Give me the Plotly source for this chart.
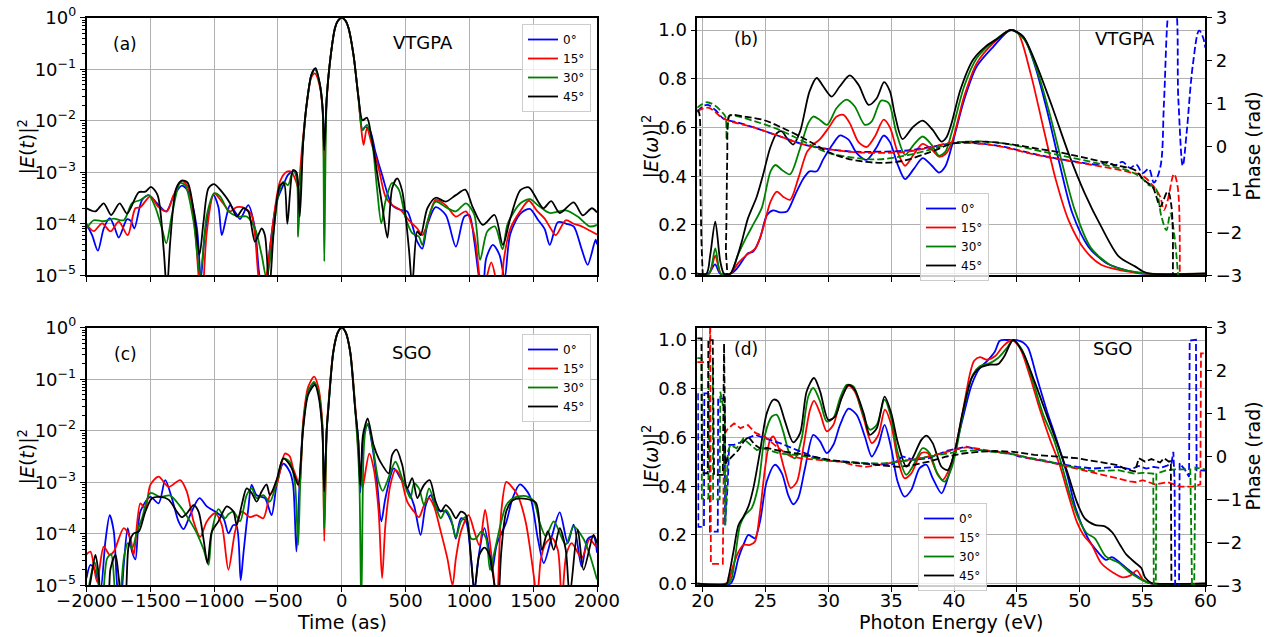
import plotly.graph_objects as go

# ---------------- tick labels / categories ----------------
angles = ["0°", "15°", "30°", "45°"]
colors = ["#0000ff", "#ff0000", "#008000", "#000000"]
log_tickvals = [1e-5, 1e-4, 1e-3, 1e-2, 1e-1, 1]
log_ticktext = ["10<sup>−5</sup>", "10<sup>−4</sup>", "10<sup>−3</sup>",
                "10<sup>−2</sup>", "10<sup>−1</sup>", "10<sup>0</sup>"]

# ---------------- panel (a): |E(t)|^2, VTGPA ----------------
a0_t = [-2000,-1956,-1911,-1865,-1818,-1783,-1747,-1682,-1651,-1625,-1565,-1513,-1448,-1375,-1318,-1253,-1201,-1135,-1104,-1070,-1005,-966,-940,-901,-875,-823,-797,-732,-680,-641,-602,-563,-510,-458,-421,-373,-335,-302,-276,-237,-210,-171,-150,-137,-118,-92,-53,-30,0,30,53,92,132,163,184,224,263,316,395,460,513,552,592,631,671,736,815,894,960,999,1039,1073,1105,1131,1184,1236,1276,1320,1400,1474,1537,1590,1630,1693,1760,1817,1880,1927,1989,2000]
a0_y = [9.8e-5,6.0e-5,3.0e-5,8.1e-5,1.29e-4,8.9e-5,5.4e-5,1.23e-4,1.12e-4,8.1e-5,2.9e-4,3.6e-4,2.5e-4,1.74e-4,3.4e-4,5.5e-4,4.2e-4,8.1e-5,8.7e-6,7.1e-5,3.6e-4,2.1e-4,6.0e-5,1.48e-4,2.3e-4,1.51e-4,1.23e-4,2.3e-4,8.1e-5,8.7e-6,5e-6,3.3e-5,2.7e-4,5.6e-4,8.9e-4,1.05e-3,5.6e-4,4.0e-3,2.0e-2,7.9e-2,0.1,5.0e-2,1.74e-2,2.5e-3,2.7e-2,0.141,0.631,0.87,1.0,0.87,0.631,0.19,2.7e-2,6.6e-3,7.6e-3,6.2e-3,2.5e-3,8.9e-4,2.3e-4,1.86e-4,1.74e-4,9.5e-5,4.5e-5,3.3e-5,9.5e-5,2.1e-4,1.48e-4,3.6e-5,1.38e-4,1.48e-4,4.5e-5,1.0e-5,4e-6,2.1e-5,3.9e-5,2.5e-5,8.7e-6,6.3e-5,1.58e-4,1.95e-4,1.2e-4,7.9e-5,3.9e-5,1.07e-4,1.0e-4,8.9e-5,3.2e-5,1.6e-5,4.9e-5,4.0e-5]

a15_t = [-2000,-1943,-1878,-1812,-1747,-1677,-1617,-1578,-1500,-1435,-1370,-1318,-1253,-1201,-1148,-1122,-1096,-1057,-1000,-940,-875,-823,-758,-706,-654,-628,-589,-537,-484,-432,-395,-355,-342,-310,-276,-237,-210,-171,-150,-137,-118,-92,-53,-30,0,30,53,92,132,150,171,197,237,289,342,395,460,526,592,631,658,736,815,894,973,1039,1078,1105,1140,1172,1210,1240,1270,1320,1400,1466,1530,1590,1630,1677,1755,1817,1880,1942,2000]
a15_y = [9.8e-5,7.2e-5,1.02e-4,7.1e-5,1.1e-4,6.0e-5,2.0e-4,2.1e-4,3.4e-4,2.1e-4,1.74e-4,3.6e-4,6.9e-4,4.9e-4,7.1e-5,1.0e-5,3.2e-6,7.1e-5,3.9e-4,2.7e-4,1.74e-4,2.1e-4,2.0e-4,1.48e-4,1.0e-5,3.2e-6,1e-5,1.1e-4,6.6e-4,1.02e-3,1.02e-3,6.3e-4,4.9e-4,3.2e-3,1.9e-2,7.1e-2,8.3e-2,4.5e-2,1.58e-2,1.26e-3,2.5e-2,0.141,0.631,0.87,1.0,0.87,0.631,0.19,2.5e-2,8.3e-3,3.4e-3,7.1e-3,3.4e-3,1.2e-3,3.4e-4,2.3e-4,1.86e-4,1.17e-4,8.1e-5,6.0e-5,8.1e-5,2.9e-4,2.3e-4,1.38e-4,1.74e-4,6.0e-5,1.0e-5,3.2e-6,1.0e-5,1.78e-5,7.9e-6,3.2e-6,2.0e-5,7.9e-5,1.78e-4,2.8e-4,1.78e-4,1.26e-4,8.7e-5,6.0e-5,1.17e-4,1.0e-4,8.9e-5,7.4e-5,6.2e-5]

a30_t = [-2000,-1943,-1865,-1786,-1708,-1643,-1578,-1513,-1461,-1409,-1375,-1331,-1266,-1227,-1161,-1109,-1057,-1000,-953,-888,-810,-745,-680,-628,-589,-550,-497,-458,-421,-381,-355,-342,-325,-302,-276,-237,-210,-171,-150,-137,-118,-92,-53,-30,0,30,53,92,132,163,197,237,276,310,342,395,447,500,552,605,631,671,736,815,894,973,1039,1084,1140,1200,1260,1300,1400,1474,1537,1630,1755,1849,1942,2000]
a30_y = [8.1e-5,1.17e-4,1.12e-4,1.26e-4,1.17e-4,2.5e-4,2.9e-4,3.6e-4,2.1e-4,8.1e-5,4.2e-5,1.48e-4,6.2e-4,5.6e-4,1.1e-4,1e-5,1.48e-4,3.9e-4,3.4e-4,1.74e-4,1.38e-4,1.38e-4,8.1e-5,2.5e-5,8.7e-6,3.3e-5,3.6e-4,6.6e-4,5.6e-4,1.1e-3,8.9e-4,5.6e-5,5.0e-4,4.0e-3,2.0e-2,7.9e-2,0.102,5.0e-2,1.74e-2,1.86e-5,2.7e-2,0.141,0.631,0.87,1.0,0.87,0.631,0.19,2.7e-2,6.6e-3,8.3e-3,4.0e-3,4.9e-4,1.02e-4,2.7e-4,6.2e-4,4.6e-4,1.29e-4,6.6e-5,5.6e-5,3.9e-5,1.1e-4,2.7e-4,2.1e-4,1.74e-4,2.5e-4,1.48e-4,2.0e-5,7.1e-5,8.9e-5,3.2e-5,1.0e-4,2.5e-4,3.0e-4,2.3e-4,1.62e-4,1.82e-4,1.38e-4,8.9e-5,9.5e-5]

a45_t = [-2000,-1930,-1865,-1807,-1740,-1682,-1591,-1539,-1495,-1443,-1396,-1370,-1344,-1297,-1253,-1208,-1156,-1115,-1083,-1044,-1000,-940,-875,-823,-771,-732,-680,-628,-602,-568,-531,-484,-453,-426,-381,-355,-329,-302,-276,-237,-205,-171,-150,-137,-118,-92,-53,-30,0,30,53,92,132,163,197,231,276,320,358,395,434,473,526,552,592,618,671,736,815,894,968,1026,1105,1197,1262,1320,1400,1466,1537,1580,1641,1708,1817,1888,1960,2000]
a45_y = [2.0e-4,1.74e-4,2.5e-4,1.48e-4,2.5e-4,1.58e-4,4.1e-4,4.2e-4,5.2e-4,3.6e-4,3.3e-5,5e-6,4.5e-5,4.9e-4,6.9e-4,6.3e-4,1.48e-4,2.5e-5,1.1e-4,4.9e-4,5.9e-4,4.2e-4,2.5e-4,1.38e-4,2.0e-4,1.74e-4,4.5e-5,8.1e-5,6.0e-5,5e-6,8.1e-5,5.6e-4,6.2e-4,1.0e-4,1.1e-3,1.0e-3,1.38e-4,4.0e-3,2.0e-2,7.9e-2,0.105,5.0e-2,1.74e-2,2.7e-3,2.7e-2,0.141,0.631,0.87,1.0,0.87,0.631,0.19,2.7e-2,1.02e-2,1.15e-2,5.2e-3,1.02e-3,2.0e-4,5.4e-5,4.9e-4,7.6e-4,4.4e-4,3.3e-5,6.3e-6,7.1e-5,6.0e-5,2.0e-4,3.2e-4,2.7e-4,3.6e-4,4.6e-4,2.1e-4,9.5e-5,1.48e-4,3.9e-5,1.26e-4,4.5e-4,5.1e-4,2.75e-4,2.0e-4,2.75e-4,1.62e-4,2.6e-4,1.45e-4,2.0e-4,1.66e-4]

# ---------------- panel (c): |E(t)|^2, SGO ----------------
c0_t = [-2000,-1969,-1930,-1891,-1852,-1818,-1786,-1760,-1734,-1708,-1677,-1643,-1617,-1578,-1500,-1435,-1383,-1331,-1279,-1240,-1188,-1115,-1057,-992,-927,-888,-849,-823,-792,-771,-732,-706,-667,-602,-550,-510,-458,-408,-381,-355,-330,-302,-263,-216,-184,-153,-137,-118,-105,-66,-30,0,30,66,105,130,145,165,184,205,242,276,310,342,408,460,513,566,618,658,697,750,815,868,894,934,973,1013,1039,1078,1118,1157,1178,1215,1287,1340,1396,1474,1537,1583,1646,1708,1771,1817,1880,1927,1973,2000]
c0_y = [1.38e-5,2.5e-5,1.86e-5,7.9e-6,7.1e-5,2.3e-4,1.1e-4,1e-5,4e-6,2.5e-5,1.29e-4,4.5e-5,3.2e-5,2.7e-4,5.2e-4,3.9e-4,1.1e-3,4.9e-4,1.74e-4,1.23e-4,2.3e-4,4.9e-4,3.4e-4,2.7e-4,2.0e-4,1.02e-4,1.48e-4,1.38e-4,1.26e-5,4.0e-5,3.1e-4,8.9e-4,5.6e-4,4.9e-4,2.3e-4,8.9e-4,2.3e-3,1.62e-3,8.9e-4,4.5e-5,1.0e-3,1.29e-2,5.8e-2,8.3e-2,5.8e-2,1.29e-2,6.3e-4,1.0e-2,2.7e-2,0.34,0.82,1.0,0.82,0.34,2.7e-2,6.3e-3,6.3e-4,6.3e-3,1.12e-2,1.29e-2,4.6e-3,1.02e-3,1.74e-4,4.9e-4,1.86e-3,1.2e-3,7.6e-4,3.6e-4,9.5e-5,3.6e-4,5.6e-4,2.9e-4,2.7e-4,1.48e-4,8.1e-5,2.0e-4,1.74e-4,3.3e-5,7.9e-6,4.5e-5,1.29e-4,4.5e-5,1.86e-5,6.3e-5,1.62e-4,5.0e-4,9.1e-4,5.4e-4,7.9e-5,2.7e-5,8.9e-5,2.6e-4,6.6e-5,1.51e-4,2.3e-5,7.9e-5,8.9e-5,4.3e-5]

c15_t = [-2000,-1969,-1917,-1865,-1818,-1786,-1708,-1656,-1630,-1578,-1539,-1500,-1435,-1357,-1266,-1214,-1161,-1109,-1057,-992,-940,-888,-836,-784,-719,-667,-615,-563,-510,-445,-408,-381,-342,-330,-302,-263,-216,-184,-153,-137,-118,-105,-66,-30,0,30,66,105,137,163,175,216,250,289,316,342,381,421,460,513,566,605,645,684,723,776,828,868,894,934,994,1039,1078,1123,1157,1197,1215,1250,1289,1320,1381,1443,1505,1530,1560,1599,1646,1693,1724,1760,1802,1880,1942,1989,2000]
c15_y = [4.0e-5,4.5e-5,1.17e-5,5.6e-5,3.9e-5,4.5e-5,1.29e-4,8.1e-5,3.9e-5,3.9e-4,3.1e-4,8.9e-4,1.29e-3,8.1e-4,1.1e-3,6.6e-4,1.74e-4,8.7e-5,1.74e-4,2.5e-4,1.48e-4,2.0e-5,1.1e-4,2.7e-4,2.1e-4,2.3e-4,2.0e-4,5.6e-4,8.9e-4,3.6e-3,3.2e-3,1.86e-3,1.0e-3,7.9e-4,1.58e-2,7.1e-2,0.112,7.1e-2,1.58e-2,7.2e-5,1.0e-2,3.2e-2,0.355,0.83,1.0,0.83,0.355,3.2e-2,2.5e-3,7.9e-4,1.1e-3,3.6e-3,1.86e-3,2.7e-4,1.38e-5,1.48e-4,8.9e-4,1.74e-3,1.29e-3,4.2e-4,2.7e-4,2.1e-4,3.6e-4,4.9e-4,3.4e-4,1.1e-4,3.3e-5,1e-5,3.3e-5,1.1e-4,2.3e-4,1.1e-4,6.0e-5,2.9e-4,8.1e-5,1e-5,3.2e-6,2.7e-4,1.02e-3,8.9e-4,5.4e-4,1.62e-4,1.5e-5,5e-6,3.2e-5,6.6e-5,8.3e-5,4.9e-5,5e-6,4.0e-5,6.6e-5,3.4e-5,7.9e-5,5.8e-5,6.0e-5]

c30_t = [-2000,-1969,-1937,-1904,-1878,-1839,-1807,-1773,-1747,-1708,-1677,-1643,-1604,-1565,-1500,-1422,-1344,-1266,-1188,-1135,-1083,-1044,-1018,-966,-914,-888,-849,-797,-745,-706,-667,-615,-563,-510,-458,-408,-368,-342,-325,-302,-263,-216,-184,-153,-137,-118,-105,-66,-30,0,30,66,105,137,153,170,184,205,250,289,321,355,421,473,513,539,566,605,645,684,736,776,815,855,894,934,973,1013,1052,1092,1131,1162,1197,1250,1289,1349,1443,1505,1552,1599,1661,1755,1817,1895,1942,2000]
c30_y = [5e-6,1.38e-5,2.8e-5,1.1e-5,4e-6,3.3e-5,4.0e-5,6.3e-6,4e-6,3.3e-5,6.6e-5,5.2e-5,1.1e-4,2.0e-4,6.2e-4,5.2e-4,5.5e-4,3.4e-4,1.74e-4,1.02e-4,5.0e-5,2.5e-5,1.1e-4,3.0e-4,2.0e-4,2.4e-4,2.7e-4,1.74e-4,5.6e-4,7.6e-4,4.9e-4,5.6e-4,4.2e-4,1.02e-3,2.9e-3,2.5e-3,1.02e-3,6.0e-5,1.0e-3,1.26e-2,5.8e-2,8.9e-2,5.8e-2,1.29e-2,1.29e-4,1.0e-2,2.7e-2,0.34,0.82,1.0,0.82,0.34,2.7e-2,1.26e-3,3.2e-6,3.2e-3,9.5e-3,1.38e-2,3.9e-3,1.02e-3,6.8e-4,1.02e-3,2.5e-3,1.2e-3,6.6e-4,4.9e-4,9.5e-4,7.6e-4,3.6e-4,7.6e-4,3.4e-4,2.0e-4,2.9e-4,2.0e-4,8.5e-5,1.74e-4,2.1e-4,8.1e-5,8.1e-5,1.1e-4,8.1e-5,2.0e-5,4.5e-5,1.74e-4,3.6e-4,5.0e-4,5.4e-4,4.3e-4,1.62e-4,8.9e-5,1.74e-4,6.2e-5,1.38e-4,7.9e-5,4.0e-5,1.29e-5]

c45_t = [-2000,-1964,-1930,-1904,-1878,-1839,-1812,-1773,-1747,-1721,-1703,-1669,-1630,-1591,-1539,-1487,-1422,-1357,-1292,-1253,-1214,-1161,-1122,-1083,-1052,-1018,-966,-901,-849,-823,-784,-745,-706,-667,-628,-589,-563,-510,-458,-408,-381,-342,-302,-263,-210,-184,-153,-137,-118,-105,-66,-30,0,30,66,105,130,145,165,184,203,250,289,316,368,395,429,473,513,552,592,618,645,689,736,776,815,855,894,934,973,1013,1039,1078,1118,1157,1197,1223,1250,1289,1340,1427,1521,1568,1615,1661,1708,1755,1786,1849,1895,1973,2000]
c45_y = [4e-6,1.38e-5,3.9e-5,1.58e-5,4e-6,4e-6,2.1e-5,3.9e-5,1.38e-5,4e-6,4e-6,6.0e-5,1.02e-4,1.1e-4,2.7e-4,4.9e-4,5.2e-4,4.6e-4,2.7e-4,2.1e-4,2.5e-4,3.6e-4,2.7e-4,7.9e-5,2.7e-5,1.1e-4,1.74e-4,3.4e-4,2.7e-4,1.48e-4,3.6e-4,7.6e-4,6.2e-4,4.2e-4,6.6e-4,9.1e-4,5.6e-4,1.12e-3,2.9e-3,2.2e-3,1.62e-3,8.9e-4,1.12e-2,5.0e-2,7.8e-2,5.0e-2,1.12e-2,6.6e-4,1.0e-2,2.7e-2,0.34,0.82,1.0,0.82,0.34,2.7e-2,6.3e-3,8.9e-4,7.9e-3,1.29e-2,1.74e-2,5.2e-3,2.9e-3,2.2e-3,1.48e-3,3.4e-3,4.3e-3,2.2e-3,7.6e-4,1.2e-3,4.9e-4,6.6e-4,8.9e-4,1.1e-3,4.2e-4,2.7e-4,3.6e-4,2.9e-4,2.0e-4,2.7e-4,2.3e-4,3.3e-5,7.9e-6,3.9e-5,5.4e-5,3.9e-5,1e-5,4e-6,4.5e-5,2.7e-4,4.5e-4,4.8e-4,4.0e-4,4.9e-5,1.12e-4,4.9e-5,1.29e-4,4.9e-5,6.3e-6,1.2e-4,2.0e-5,9.5e-5,6.6e-5]

# ---------------- panel (b): |E(w)|^2 and phase, VTGPA ----------------
b0_e = [19.55,20.45,20.98,21.4,22.2,22.7,23.2,23.6,24.0,24.56,25.1,25.6,26.15,26.7,27.35,28.0,28.5,29.07,29.6,30.4,30.9,31.6,32.25,33.05,33.85,34.4,34.9,35.5,36.1,36.8,37.5,38.2,38.8,39.3,39.8,40.8,41.8,43.1,44.5,45.5,46.4,47.4,48.4,49.4,50.7,52.1,53.1,54.4,55.0,60.0]
b0_s = [0,0,0.038,0,0,0.02,0.056,0.084,0.09,0.145,0.24,0.26,0.252,0.255,0.323,0.39,0.42,0.42,0.47,0.535,0.567,0.55,0.495,0.467,0.52,0.567,0.54,0.45,0.388,0.43,0.474,0.445,0.415,0.44,0.52,0.713,0.85,0.93,1.0,0.973,0.86,0.67,0.45,0.25,0.11,0.044,0.023,0.005,0,0]
b15_e = [19.55,20.5,21.0,21.45,22.2,22.8,23.5,24.2,24.8,25.4,25.9,26.4,26.95,27.6,28.3,28.8,29.3,30.0,30.66,31.2,31.7,32.4,33.05,33.7,34.4,34.9,35.5,36.1,36.8,37.5,38.2,38.8,39.3,39.8,40.8,41.8,43.1,44.5,45.1,46.1,47.1,48.1,49.1,50.4,51.7,53.1,54.7,55.3,60.0]
b15_s = [0,0,0.074,0,0,0.042,0.077,0.104,0.186,0.296,0.337,0.316,0.303,0.39,0.5,0.53,0.55,0.597,0.645,0.652,0.618,0.54,0.52,0.563,0.632,0.6,0.5,0.443,0.49,0.533,0.51,0.48,0.49,0.535,0.727,0.863,0.945,1.0,0.986,0.82,0.6,0.385,0.221,0.098,0.037,0.016,0.003,0,0]
b30_e = [19.55,20.5,21.0,21.45,22.2,22.8,23.5,24.0,24.7,25.4,25.8,26.3,26.95,27.75,28.4,28.8,29.3,29.9,30.66,31.46,32.1,32.9,33.45,34.2,34.8,35.4,36.1,36.8,37.5,38.2,38.8,39.3,39.8,40.8,41.8,43.1,44.6,45.6,46.6,47.6,48.6,49.6,50.9,52.4,53.7,55.0,55.5,60.0]
b30_s = [0,0,0.104,0,0,0.077,0.152,0.2,0.27,0.42,0.446,0.426,0.408,0.515,0.618,0.645,0.632,0.611,0.68,0.714,0.686,0.611,0.625,0.71,0.7,0.58,0.488,0.53,0.563,0.53,0.484,0.5,0.577,0.768,0.884,0.952,1.0,0.96,0.836,0.658,0.453,0.262,0.105,0.037,0.014,0.003,0,0]
b45_e = [19.55,20.3,20.6,21.0,21.4,21.7,22.2,22.57,23.1,23.6,24.3,24.8,25.36,25.9,26.3,26.7,27.2,27.75,28.5,29.07,29.6,30.26,30.9,31.7,32.4,33.2,33.85,34.43,34.9,35.3,35.9,36.7,37.5,38.3,39.0,39.4,39.8,40.5,41.5,42.5,43.5,44.5,45.5,46.4,47.8,49.1,50.4,51.7,53.1,54.4,55.0,55.6,60.0]
b45_s = [0,0,0.077,0.214,0.05,0,0,0.042,0.13,0.227,0.316,0.405,0.515,0.577,0.584,0.556,0.53,0.584,0.748,0.803,0.768,0.727,0.768,0.814,0.775,0.693,0.72,0.786,0.748,0.65,0.552,0.6,0.628,0.59,0.542,0.56,0.617,0.754,0.877,0.932,0.966,1.0,0.973,0.877,0.686,0.495,0.33,0.194,0.071,0.03,0.01,0,0]

b0_pe = [19.55,20.0,20.4,21.0,21.6,21.9,22.5,24.0,26.0,28.0,30.0,32.0,34.0,36.0,38.0,40.0,42.0,44.0,46.0,48.0,50.0,51.5,52.2,52.8,53.4,54.0,54.5,55.0,55.5,55.9,56.4,56.7,57.0,57.2,57.5,57.85,58.2,58.5,59.0,59.5,59.8,60.0]
b0_p = [0.8,0.93,0.97,0.85,0.66,0.62,0.58,0.45,0.25,0.05,-0.06,-0.12,-0.12,-0.1,-0.02,0.08,0.07,-0.01,-0.15,-0.27,-0.37,-0.42,-0.36,-0.44,-0.36,-0.5,-0.42,-0.62,-0.52,-0.84,-0.5,1.0,3.0,3.4,3.4,1.08,-0.45,0.3,1.9,2.7,2.55,2.3]
b15_pe = [19.55,20.0,20.5,21.0,21.6,22.5,24.0,26.0,28.0,30.0,32.0,34.0,36.0,38.0,40.0,42.0,44.0,46.0,48.0,50.0,52.0,54.0,55.0,55.9,56.4,56.7,57.0,57.5,57.8,57.95]
b15_p = [0.82,0.88,0.9,0.8,0.66,0.56,0.45,0.25,0.05,-0.06,-0.13,-0.15,-0.13,-0.03,0.1,0.07,-0.02,-0.16,-0.28,-0.38,-0.48,-0.6,-0.68,-0.94,-1.17,-1.48,-1.25,-0.64,-0.95,-3.3]
b30_pe = [19.55,20.3,21.0,21.5,21.8,21.9,22.0,22.1,22.5,24.0,26.0,28.0,30.0,32.0,34.0,36.0,38.0,40.0,42.0,44.0,46.0,48.0,50.0,52.0,54.0,55.0,55.5,56.0,56.5,56.9,57.2,57.5,57.9]
b30_p = [0.9,1.03,0.95,0.81,0.7,0.15,0.5,0.72,0.72,0.6,0.4,0.12,-0.15,-0.26,-0.3,-0.22,-0.08,0.08,0.12,0.07,-0.05,-0.18,-0.3,-0.43,-0.58,-0.75,-0.9,-0.95,-1.63,-1.95,-1.56,-2.0,-3.3]
b45_pe = [19.55,19.7,19.8,19.9,20.0,20.05,21.7,21.85,21.95,22.05,22.2,23.5,24.8,26.15,27.5,28.8,30.1,31.5,33.05,34.5,36.0,38.2,39.8,41.5,43.1,44.8,46.4,48.1,49.75,51.4,53.05,54.4,55.1,55.8,56.1,56.4,57.0,57.3,57.4]
b45_p = [0.85,0.8,-0.5,-2.2,-2.95,-3.3,-3.3,-2.3,-0.3,0.66,0.73,0.69,0.62,0.46,0.27,0.07,-0.14,-0.28,-0.36,-0.38,-0.33,-0.12,0.06,0.11,0.1,0.04,-0.04,-0.12,-0.22,-0.33,-0.45,-0.55,-0.78,-0.94,-1.17,-1.4,-1.05,-1.4,-3.3]

# ---------------- panel (d): |E(w)|^2 and phase, SGO ----------------
d0_e = [19.55,22.2,22.45,22.84,23.24,23.63,23.9,24.16,24.56,25.1,25.75,26.3,26.8,27.2,27.6,28.14,28.8,29.34,29.87,30.4,30.93,31.6,32.25,32.9,33.45,33.98,34.47,35.0,35.5,36.06,36.6,37.26,37.8,38.3,39.0,39.5,40.05,40.7,41.4,42.05,42.6,43.25,43.64,44.3,45.0,45.5,45.9,46.6,47.4,48.2,49.0,49.6,50.16,50.8,51.2,52.07,52.56,53.06,54.05,54.7,55.2,55.7,60.0]
d0_s = [0,0,0.022,0.104,0.159,0.2,0.193,0.186,0.255,0.42,0.488,0.453,0.364,0.326,0.351,0.474,0.611,0.584,0.536,0.57,0.652,0.718,0.693,0.604,0.522,0.57,0.652,0.556,0.42,0.357,0.385,0.474,0.488,0.433,0.371,0.433,0.542,0.68,0.816,0.885,0.912,0.953,0.997,1.0,1.0,0.99,0.967,0.844,0.707,0.584,0.447,0.323,0.241,0.173,0.145,0.098,0.109,0.092,0.05,0.026,0.01,0,0]
d15_e = [19.55,21.8,22.04,22.44,22.84,23.24,23.77,24.16,24.56,24.96,25.36,25.62,26.0,26.55,27.0,27.5,28.0,28.54,28.86,29.34,29.87,30.4,30.93,31.6,32.1,32.8,33.45,33.98,34.5,35.0,35.5,36.06,36.6,37.4,37.9,38.6,39.1,39.65,40.05,40.7,41.25,41.6,42.05,42.6,43.25,43.9,44.6,45.24,46.0,46.8,47.6,48.4,49.1,49.76,50.3,50.96,51.7,52.7,53.4,54.05,54.55,55.0,55.5,55.9,60.0]
d15_s = [0,0,0.008,0.077,0.13,0.159,0.159,0.173,0.296,0.474,0.59,0.604,0.563,0.46,0.392,0.419,0.556,0.714,0.75,0.7,0.625,0.652,0.748,0.812,0.789,0.68,0.577,0.611,0.714,0.652,0.515,0.433,0.453,0.536,0.536,0.46,0.426,0.474,0.542,0.707,0.858,0.915,0.93,0.919,0.933,0.974,1.0,0.967,0.858,0.72,0.597,0.488,0.364,0.255,0.2,0.159,0.085,0.044,0.026,0.034,0.055,0.019,0.003,0,0]
d30_e = [19.55,22.0,22.3,22.57,22.97,23.37,23.9,24.43,24.96,25.5,25.9,26.4,26.95,27.35,27.88,28.4,28.8,29.34,29.87,30.4,30.93,31.46,32.0,32.6,33.3,33.85,34.47,35.0,35.5,36.2,36.7,37.5,38.05,38.7,39.25,39.8,40.2,40.85,41.5,42.05,42.85,43.5,44.2,44.7,45.4,46.2,47.1,47.9,48.56,49.23,49.9,50.56,51.2,52.07,53.06,54.05,54.7,55.4,55.9,60.0]
d30_s = [0,0,0.022,0.104,0.24,0.282,0.31,0.405,0.611,0.686,0.693,0.625,0.53,0.515,0.597,0.768,0.803,0.748,0.666,0.68,0.762,0.816,0.81,0.72,0.632,0.652,0.755,0.68,0.542,0.447,0.48,0.556,0.536,0.447,0.419,0.474,0.556,0.734,0.858,0.892,0.905,0.926,0.967,1.0,0.96,0.844,0.693,0.597,0.488,0.364,0.268,0.207,0.186,0.112,0.087,0.044,0.023,0.005,0,0]
d45_e = [19.55,21.9,22.04,22.44,22.84,23.24,23.63,24.03,24.56,25.1,25.62,26.0,26.55,27.2,27.75,28.27,28.86,29.34,30.0,30.53,31.06,31.6,32.1,32.8,33.3,33.85,34.47,35.0,35.5,36.2,36.7,37.4,37.8,38.3,39.0,39.5,40.05,40.7,41.4,42.05,42.85,43.5,44.0,44.7,45.5,46.4,47.37,48.2,49.0,49.76,50.4,51.2,52.0,52.6,53.2,53.7,54.4,54.9,55.2,55.7,56.0,60.0]
d45_s = [0,0,0.022,0.13,0.24,0.275,0.316,0.392,0.542,0.7,0.755,0.748,0.666,0.58,0.618,0.789,0.844,0.789,0.672,0.686,0.762,0.816,0.796,0.7,0.611,0.638,0.768,0.7,0.584,0.48,0.515,0.59,0.608,0.577,0.48,0.466,0.542,0.707,0.844,0.885,0.899,0.901,0.933,1.0,0.947,0.83,0.693,0.577,0.46,0.337,0.268,0.241,0.235,0.21,0.16,0.12,0.087,0.064,0.025,0.003,0,0]

d0_pe = [19.55,19.62,19.65,20.1,20.13,20.55,20.58,21.2,21.23,21.75,21.78,22.0,22.1,22.5,23.0,23.5,24.2,25.0,26.15,27.5,28.8,30.1,31.5,33.05,34.4,35.0,35.9,36.3,36.7,38.0,39.4,41.0,42.0,43.1,44.4,45.2,46.6,48.2,49.8,51.1,53.06,54.05,54.7,55.3,55.9,56.4,56.9,57.3,57.45,57.55,57.6,57.9,57.95,58.35,58.7,58.75,59.25,59.3,60.0]
d0_p = [1.45,1.45,-1.64,-1.64,1.47,1.47,-1.75,-1.75,1.35,1.35,-1.6,-0.6,0.27,0.27,0.33,0.42,0.5,0.42,0.31,0.15,0.0,-0.1,-0.12,-0.16,-0.18,-0.2,0.0,-0.03,-0.08,-0.04,0.13,0.23,0.15,0.11,0.07,0.0,-0.08,-0.16,-0.24,-0.28,-0.24,-0.3,-0.22,-0.28,-0.24,-0.27,-0.22,-0.16,0.11,-0.6,-3.3,-3.3,-0.16,-0.3,-0.47,2.7,2.72,-0.32,-0.33]
d15_pe = [19.55,20.55,20.6,20.65,21.6,21.7,22.0,22.5,23.0,23.6,24.2,25.0,26.0,27.0,28.0,29.0,30.0,31.0,32.0,33.0,34.0,35.0,36.0,38.0,40.0,41.0,42.0,43.0,44.4,46.0,48.0,50.0,52.0,54.0,54.5,55.0,55.5,56.0,57.0,58.0,59.0,59.6,59.65,60.0]
d15_p = [2.2,2.2,3.3,-2.5,-2.5,0.5,0.65,0.77,0.66,0.73,0.55,0.45,0.2,0.0,-0.05,-0.08,-0.1,-0.12,-0.2,-0.24,-0.2,-0.15,-0.1,0.0,0.15,0.22,0.18,0.12,0.08,-0.04,-0.16,-0.3,-0.45,-0.58,-0.6,-0.55,-0.6,-0.65,-0.6,-0.7,-0.7,-0.65,2.4,2.4]
d30_pe = [19.55,19.9,19.93,20.45,20.48,20.8,20.83,21.35,21.4,21.6,21.75,21.8,22.0,22.2,22.7,23.24,23.8,24.3,24.8,26.15,27.5,28.8,30.1,31.5,33.05,34.4,35.5,36.7,38.0,39.4,40.7,42.0,43.3,44.7,46.0,47.4,48.6,49.9,51.1,53.06,54.4,55.0,55.85,55.9,56.05,56.1,56.9,57.6,58.8,58.95,59.1,59.2,60.0]
d30_p = [2.29,2.29,-0.98,-0.98,2.17,2.17,-1.0,-1.0,1.51,1.2,1.2,-1.6,0.11,0.27,0.19,0.42,0.27,0.15,0.19,0.07,0.03,-0.04,-0.1,-0.13,-0.16,-0.16,-0.12,-0.08,0.0,0.07,0.13,0.15,0.11,0.05,-0.03,-0.1,-0.2,-0.28,-0.34,-0.32,-0.4,-0.38,-0.4,-3.3,-3.3,-0.4,-0.32,-0.3,-0.3,-3.3,-3.3,-0.26,-0.3]
d45_pe = [19.55,19.9,19.95,20.4,20.45,20.8,20.9,21.6,21.7,21.8,22.0,22.2,22.5,22.84,23.24,23.63,24.16,24.56,25.1,26.15,27.5,28.8,30.1,31.5,33.05,34.4,35.6,36.7,38.0,39.4,40.7,42.0,43.3,44.7,46.4,49.75,51.4,53.0,53.7,54.4,54.7,55.2,55.7,56.4,56.7,57.1,57.25,57.3]
d45_p = [2.75,2.75,-0.39,-0.39,2.71,2.71,-0.43,-0.43,2.63,-0.2,0.0,-0.04,0.05,0.15,0.34,0.46,0.27,0.19,0.2,0.13,0.07,0.0,-0.08,-0.13,-0.18,-0.21,-0.24,-0.2,-0.12,0.0,0.07,0.11,0.13,0.11,0.04,-0.04,-0.12,-0.2,-0.3,-0.35,-0.04,-0.12,-0.06,-0.14,-0.04,-0.12,-0.1,-3.3]

# ---------------- geometry ----------------
W, H = 1271, 637
xL = [86.5 / W, 597 / W]
xR = [697.3 / W, 1205.4 / W]
yTop = [1 - 275.3 / H, 1 - 17.7 / H]
yBot = [1 - 585.3 / H, 1 - 327.7 / H]

FONT = "DejaVu Sans"
GRID = "#b0b0b0"

fig = go.Figure()

time_sets = [
    ("x", "y", "legend", [(a0_t, a0_y), (a15_t, a15_y), (a30_t, a30_y), (a45_t, a45_y)]),
    ("x3", "y4", "legend3", [(c0_t, c0_y), (c15_t, c15_y), (c30_t, c30_y), (c45_t, c45_y)]),
]
for xa, ya, lg, series in time_sets:
    for i, (tx, ty) in enumerate(series):
        fig.add_trace(go.Scatter(x=tx, y=ty, xaxis=xa, yaxis=ya, mode="lines",
                                 line=dict(color=colors[i], width=1.8, shape="spline", smoothing=0.8),
                                 name=angles[i], legend=lg, showlegend=True))

freq_sets = [
    ("x2", "y2", "y3", "legend2",
     [(b0_e, b0_s), (b15_e, b15_s), (b30_e, b30_s), (b45_e, b45_s)],
     [(b0_pe, b0_p), (b15_pe, b15_p), (b30_pe, b30_p), (b45_pe, b45_p)], "spline"),
    ("x4", "y5", "y6", "legend4",
     [(d0_e, d0_s), (d15_e, d15_s), (d30_e, d30_s), (d45_e, d45_s)],
     [(d0_pe, d0_p), (d15_pe, d15_p), (d30_pe, d30_p), (d45_pe, d45_p)], "linear"),
]
for xa, ya, yp, lg, spec, phase, pshape in freq_sets:
    for i, (ex, sy) in enumerate(spec):
        fig.add_trace(go.Scatter(x=ex, y=sy, xaxis=xa, yaxis=ya, mode="lines",
                                 line=dict(color=colors[i], width=1.8, shape="spline", smoothing=0.8),
                                 name=angles[i], legend=lg, showlegend=True))
    for i, (px, py) in enumerate(phase):
        fig.add_trace(go.Scatter(x=px, y=py, xaxis=xa, yaxis=yp, mode="lines",
                                 line=dict(color=colors[i], width=1.8, dash="7px,3px", shape=pshape),
                                 showlegend=False, hoverinfo="skip"))

tickfont = dict(family=FONT, size=18, color="black")
common_ax = dict(showline=True, linecolor="black", linewidth=1.5, mirror=True,
                 ticks="outside", ticklen=5, tickwidth=1.2, tickcolor="black",
                 showgrid=True, gridcolor=GRID, gridwidth=1.1, zeroline=False,
                 tickfont=tickfont)

minor_log = dict(ticks="outside", ticklen=3, tickcolor="black", showgrid=False,
                 tickvals=[m * 10.0 ** e for e in range(-5, 0) for m in range(2, 10)])

def time_x(domain, anchor, labels):
    d = dict(common_ax)
    d.update(domain=domain, anchor=anchor, range=[-2000, 2000],
             tickvals=[-2000, -1500, -1000, -500, 0, 500, 1000, 1500, 2000],
             showticklabels=labels, ticklabelstandoff=-7)
    return d

def time_y(domain, anchor):
    d = dict(common_ax)
    d.update(domain=domain, anchor=anchor, type="log", range=[-5, 0],
             tickvals=log_tickvals, ticktext=log_ticktext, minor=minor_log)
    return d

def freq_x(domain, anchor, labels):
    d = dict(common_ax)
    d.update(domain=domain, anchor=anchor, range=[19.57, 60],
             tickvals=[20, 25, 30, 35, 40, 45, 50, 55, 60], showticklabels=labels,
             ticklabelstandoff=-7)
    return d

def freq_y(domain, anchor):
    d = dict(common_ax)
    d.update(domain=domain, anchor=anchor, range=[-0.0066, 1.0505],
             tickvals=[0, 0.2, 0.4, 0.6, 0.8, 1.0], tickformat=".1f")
    return d

def phase_y(overlay, anchor):
    d = dict(common_ax)
    d.update(overlaying=overlay, anchor=anchor, side="right", range=[-3, 3],
             tickvals=[-3, -2, -1, 0, 1, 2, 3], showgrid=False, mirror=False)
    return d

leg_common = dict(font=dict(family=FONT, size=12, color="black"),
                  bgcolor="rgba(255,255,255,0.8)", bordercolor="#cccccc", borderwidth=1,
                  xanchor="left", yanchor="top", itemwidth=30, tracegroupgap=0,
                  itemclick=False, itemdoubleclick=False)

def leg(x, y):
    d = dict(leg_common)
    d.update(x=x, y=y)
    return d

fig.update_layout(
    width=W, height=H, margin=dict(l=0, r=0, t=0, b=0, autoexpand=False),
    paper_bgcolor="white", plot_bgcolor="white",
    font=dict(family=FONT, size=18, color="black"),
    xaxis=time_x(xL, "y", False), yaxis=time_y(yTop, "x"),
    xaxis2=freq_x(xR, "y2", False), yaxis2=freq_y(yTop, "x2"), yaxis3=phase_y("y2", "x2"),
    xaxis3=time_x(xL, "y4", True), yaxis4=time_y(yBot, "x3"),
    xaxis4=freq_x(xR, "y5", True), yaxis5=freq_y(yBot, "x4"), yaxis6=phase_y("y5", "x4"),
    legend=leg(522 / W, 1 - 24 / H),
    legend2=leg(920 / W, 1 - 193 / H),
    legend3=leg(522 / W, 1 - 334 / H),
    legend4=leg(918 / W, 1 - 503 / H),
    showlegend=True,
)

def ann(x, y, text, size=18, angle=0):
    fig.add_annotation(x=x, y=y, xref="paper", yref="paper", text=text, showarrow=False,
                       font=dict(family=FONT, size=size, color="black"), textangle=angle,
                       xanchor="center", yanchor="middle")

ann(125 / W, 1 - 44 / H, "(a)", 17)
ann(423 / W, 1 - 42.5 / H, "VTGPA")
ann(125 / W, 1 - 353.5 / H, "(c)", 17)
ann(412 / W, 1 - 352.5 / H, "SGO")
ann(745.5 / W, 1 - 39.2 / H, "(b)", 17)
ann(1124.5 / W, 1 - 38.5 / H, "VTGPA")
ann(745.5 / W, 1 - 349.2 / H, "(d)", 17)
ann(1113 / W, 1 - 348.3 / H, "SGO")

for yc in (146.5, 456.5):
    ann(27 / W, 1 - yc / H, "|<i>E</i>(<i>t</i>)|<sup>2</sup>", 19, -90)
    ann(651 / W, 1 - yc / H, "|<i>E</i>(<i>ω</i>)|<sup>2</sup>", 19, -90)
    ann(1252 / W, 1 - yc / H, "Phase (rad)", 19, -90)
ann(341.7 / W, 1 - 622 / H, "Time (as)", 19)
ann(951.4 / W, 1 - 622 / H, "Photon Energy (eV)", 19)

fig.write_html("out.html")
